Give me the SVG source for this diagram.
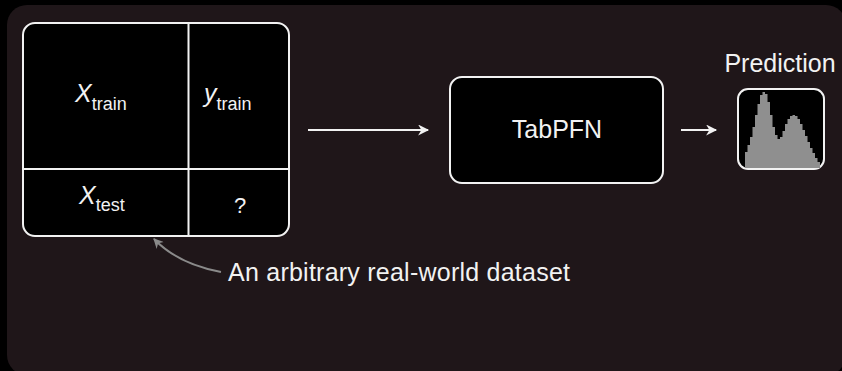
<svg xmlns="http://www.w3.org/2000/svg" width="842" height="371" viewBox="0 0 842 371">
<defs>
<style>
.t{font-family:"Liberation Sans",Arial,sans-serif;fill:#f2f2f2}
.box{fill:#000;stroke:#f2f2f2;stroke-width:2}
.ln{stroke:#f2f2f2;stroke-width:2}
.wa{stroke:#f2f2f2;stroke-width:2;fill:none;marker-end:url(#wh)}
</style>
<marker id="wh" viewBox="0 0 10 10" refX="9" refY="5" markerWidth="12" markerHeight="11" markerUnits="userSpaceOnUse" orient="auto">
<path d="M0,0 L10,5 L0,10 L3,5 Z" fill="#f2f2f2"/>
</marker>
<marker id="gh" viewBox="0 0 10 10" refX="9" refY="5" markerWidth="11" markerHeight="10" markerUnits="userSpaceOnUse" orient="auto">
<path d="M0,0 L10,5 L0,10 L3,5 Z" fill="#8a8a8a"/>
</marker>
</defs>
<rect width="842" height="371" fill="#000"/>
<rect x="7" y="5" width="839" height="370" rx="20" fill="#1f1619"/>

<g id="dataset">
<rect class="box" x="23" y="23" width="266" height="213" rx="12"/>
<line class="ln" x1="188.5" y1="23" x2="188.5" y2="236"/>
<line class="ln" x1="23" y1="169" x2="289" y2="169"/>
<text class="t" x="75" y="102" font-size="25"><tspan font-style="italic">X</tspan><tspan font-size="18" dy="8">train</tspan></text>
<text class="t" x="204" y="102" font-size="25"><tspan font-style="italic">y</tspan><tspan font-size="18" dy="8">train</tspan></text>
<text class="t" x="79" y="204" font-size="25"><tspan font-style="italic">X</tspan><tspan font-size="18" dy="7">test</tspan></text>
<text class="t" x="240" y="213" font-size="22" text-anchor="middle">?</text>
</g>

<g id="tabpfn">
<rect class="box" x="450" y="77" width="213" height="106" rx="12"/>
<text class="t" x="557" y="138" font-size="25" text-anchor="middle">TabPFN</text>
</g>

<g id="prediction">
<text class="t" x="780" y="72" font-size="25" text-anchor="middle">Prediction</text>
<rect class="box" x="738" y="89" width="86" height="80" rx="10"/>
<path fill="#8f8f8f" d="M745,168 V152 H747.5 V145 H750 V137 H752.5 V127 H755 V115 H757.5 V104 H760 V95 H762.5 V92 H765 V94 H767.5 V102 H770 V115 H772.5 V127 H775 V135 H777.5 V139 H780 V137 H782.5 V131 H785 V124 H787.5 V119 H790 V116 H792.5 V115 H795 V116 H797.5 V119 H800 V124 H802.5 V130 H805 V136 H807.5 V142 H810 V148 H812.5 V153 H815 V158 H817.5 V162 H820 V168 Z"/>
</g>

<g id="note">
<text class="t" x="228" y="281" font-size="25" textLength="342">An arbitrary real-world dataset</text>
</g>

<g id="connectors">
<line class="wa" x1="308" y1="130" x2="428" y2="130"/>
<line class="wa" x1="681" y1="130" x2="716" y2="130"/>
<path d="M221,272 Q178,264 154,239" stroke="#8a8a8a" stroke-width="2" fill="none" marker-end="url(#gh)"/>
</g>
</svg>
